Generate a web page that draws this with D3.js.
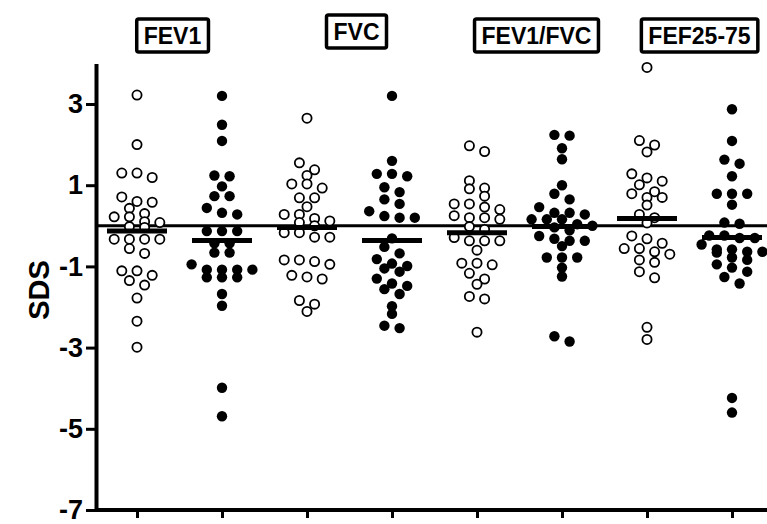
<!DOCTYPE html>
<html>
<head>
<meta charset="utf-8">
<script src="https://cdn.jsdelivr.net/npm/d3@7"></script>
<style>
  html, body { margin: 0; padding: 0; background: #fff; }
  svg { display: block; font-family: "Liberation Sans", Arial, sans-serif; }
</style>
</head>
<body>
<svg id="chart" width="767" height="524"></svg>
<script>
// Spirometry parameters, each shown as a pair of columns (open / filled)
const parameters = ["FEV1", "FVC", "FEV1/FVC", "FEF25-75"];
const groups = ["open", "filled"];

// SDS values per column
const fev1Open = [3.22, 2.0, 1.30, 1.19, 1.30, 0.71, 0.58, 0.60, 0.43, 0.30, 0.22, 0.22, 0.10, 0.08, -0.02, -0.04,
  -0.33, -0.33, -0.33, -0.33, -0.56, -0.68, -1.11, -1.11, -1.22, -1.35, -1.46, -1.78, -2.35, -2.99];
const fev1Filled = [3.20, 2.49, 2.09, 1.22, 1.24, 0.97, 0.73, 0.73, 0.44, 0.32, 0.28, -0.13, -0.13, -0.13,
  -0.43, -0.43, -0.66, -0.66, -0.95, -1.08, -1.08, -1.08, -1.08, -1.27, -1.27, -1.27, -1.68, -1.97, -3.99, -4.69];
const fvcOpen = [2.65, 1.55, 1.38, 1.24, 1.03, 1.03, 0.93, 0.69, 0.69, 0.47, 0.28, 0.28, 0.18, 0.12, 0.08, 0.0,
  -0.17, -0.17, -0.28, -0.28, -0.84, -0.84, -0.88, -0.95, -1.22, -1.26, -1.31, -1.84, -1.93, -2.11];
const fvcFilled = [3.20, 1.60, 1.28, 1.28, 1.22, 0.95, 0.83, 0.65, 0.54, 0.36, 0.24, 0.20, 0.20, -0.31, -0.52,
  -0.68, -0.82, -0.93, -0.99, -1.05, -1.13, -1.30, -1.42, -1.48, -1.56, -1.68, -1.98, -2.17, -2.46, -2.52];
const ratioOpen = [1.97, 1.83, 1.11, 0.93, 0.91, 0.73, 0.54, 0.54, 0.46, 0.40, 0.25, 0.20, 0.20, 0.16, -0.02,
  -0.09, -0.29, -0.37, -0.37, -0.37, -0.60, -0.92, -0.92, -0.96, -1.17, -1.31, -1.44, -1.74, -1.80, -2.62];
const ratioFilled = [2.24, 2.22, 1.91, 1.64, 1.00, 0.79, 0.65, 0.46, 0.32, 0.32, 0.28, 0.16, 0.16, 0.16, 0.04,
  0.0, -0.04, -0.11, -0.25, -0.32, -0.37, -0.37, -0.50, -0.78, -0.78, -0.78, -1.03, -1.25, -2.72, -2.85];
const fefOpen = [3.90, 2.10, 1.99, 1.82, 1.28, 1.18, 1.10, 1.01, 0.84, 0.79, 0.70, 0.70, 0.51, 0.28, 0.20, 0.07,
  -0.25, -0.32, -0.43, -0.56, -0.56, -0.64, -0.70, -0.84, -0.90, -1.13, -1.28, -2.50, -2.80];
const fefFilled = [2.87, 2.09, 1.63, 1.53, 1.22, 0.79, 0.79, 0.79, 0.52, 0.08, 0.05, -0.24, -0.24, -0.30, -0.30,
  -0.46, -0.58, -0.58, -0.64, -0.64, -0.66, -0.78, -0.84, -0.95, -1.03, -1.13, -1.26, -1.42, -4.24, -4.60];

// Column means (horizontal bars)
const means = [-0.13, -0.36, -0.04, -0.36, -0.17, -0.02, 0.18, -0.29];

// Y axis ticks
const yTicks = [3, 1, -1, -3, -5, -7];

const seriesValues = [fev1Open, fev1Filled, fvcOpen, fvcFilled, ratioOpen, ratioFilled, fefOpen, fefFilled];
const columns = seriesValues.map((values, i) => ({
  id: parameters[Math.floor(i / 2)] + "-" + groups[i % 2],
  param: parameters[Math.floor(i / 2)],
  group: groups[i % 2],
  values,
  mean: means[i]
}));

// ---- layout ----
const svg = d3.select("#chart");
const axisX = 96;
const y = d3.scaleLinear().domain([-7, 4]).range([510, 63.4]);
const x = d3.scalePoint().domain(columns.map(c => c.id)).range([94.5, 774.5]).padding(0.5);

const R = 4.9;        // dot radius
const ROW_H = 7.5;    // dots closer than this (px, vertically) share a row
const SPACING = 15.2; // horizontal distance between dots in one row

// Column-scatter placement: dots are grouped into rows from the top down,
// and the dots of each row are spread symmetrically about the column centre.
function scatterRows(values) {
  const sorted = values.map(v => ({ v, py: y(v) })).sort((a, b) => a.py - b.py);
  const rows = [];
  for (const d of sorted) {
    const row = rows[rows.length - 1];
    if (row && d.py - row[0].py < ROW_H) row.push(d);
    else rows.push([d]);
  }
  const out = [];
  rows.forEach(row => {
    const n = row.length;
    row.forEach((d, i) => out.push({ v: d.v, py: d.py, dx: (i - (n - 1) / 2) * SPACING }));
  });
  return out;
}

// zero reference line
svg.append("line")
  .attr("x1", axisX).attr("x2", 767)
  .attr("y1", y(0)).attr("y2", y(0))
  .attr("stroke", "#000").attr("stroke-width", 3);

// dots
columns.forEach(col => {
  const cx = x(col.id);
  svg.append("g")
    .selectAll("circle")
    .data(scatterRows(col.values))
    .join("circle")
    .attr("cx", d => cx + d.dx)
    .attr("cy", d => d.py)
    .attr("r", col.group === "open" ? R - 0.3 : R + 0.3)
    .attr("fill", col.group === "open" ? "#fff" : "#000")
    .attr("stroke", "#000")
    .attr("stroke-width", col.group === "open" ? 1.8 : 0);
});

// mean bars
svg.append("g")
  .selectAll("line")
  .data(columns)
  .join("line")
  .attr("x1", d => x(d.id) - 30)
  .attr("x2", d => x(d.id) + 30)
  .attr("y1", d => y(d.mean))
  .attr("y2", d => y(d.mean))
  .attr("stroke", "#000")
  .attr("stroke-width", 5);

// y axis
const yAxis = svg.append("g")
  .attr("transform", `translate(${axisX},0)`)
  .call(d3.axisLeft(y).tickValues(yTicks).tickSize(10).tickSizeOuter(0).tickPadding(3)
    .tickFormat(d => String(d)));
yAxis.select(".domain").attr("stroke-width", 4);
yAxis.selectAll(".tick line").attr("stroke-width", 3);
yAxis.selectAll(".tick text")
  .attr("font-family", "Liberation Sans, Arial, sans-serif")
  .attr("font-weight", "bold")
  .attr("font-size", 27)
  .attr("fill", "#000");

// x axis (unlabelled ticks under each column)
const xAxis = svg.append("g")
  .attr("transform", `translate(0,${y(-7)})`)
  .call(d3.axisBottom(x).tickSize(8).tickSizeOuter(0).tickFormat(""));
xAxis.select(".domain").attr("stroke-width", 4).attr("d", `M${axisX},0H767`);
xAxis.selectAll(".tick line").attr("stroke-width", 3);

// y axis title
svg.append("text")
  .attr("transform", `translate(49,290) rotate(-90)`)
  .attr("text-anchor", "middle")
  .attr("font-weight", "bold")
  .attr("font-size", 29)
  .text("SDS");

// parameter title boxes over each pair of columns
const titleNudge = [-7, 7, 17, 10];
const titleTop = [19, 15, 19, 19];
parameters.forEach((p, i) => {
  const cx = (x(columns[2 * i].id) + x(columns[2 * i + 1].id)) / 2 + titleNudge[i];
  const g = svg.append("g");
  const t = g.append("text")
    .attr("x", cx)
    .attr("y", titleTop[i] + 25)
    .attr("text-anchor", "middle")
    .attr("font-weight", "bold")
    .attr("font-size", 23)
    .text(p);
  const bb = t.node().getBBox();
  g.insert("rect", "text")
    .attr("x", bb.x - 7)
    .attr("y", titleTop[i])
    .attr("width", bb.width + 14)
    .attr("height", 33)
    .attr("rx", 2)
    .attr("fill", "#fff")
    .attr("stroke", "#000")
    .attr("stroke-width", 3.5);
});
</script>
</body>
</html>
